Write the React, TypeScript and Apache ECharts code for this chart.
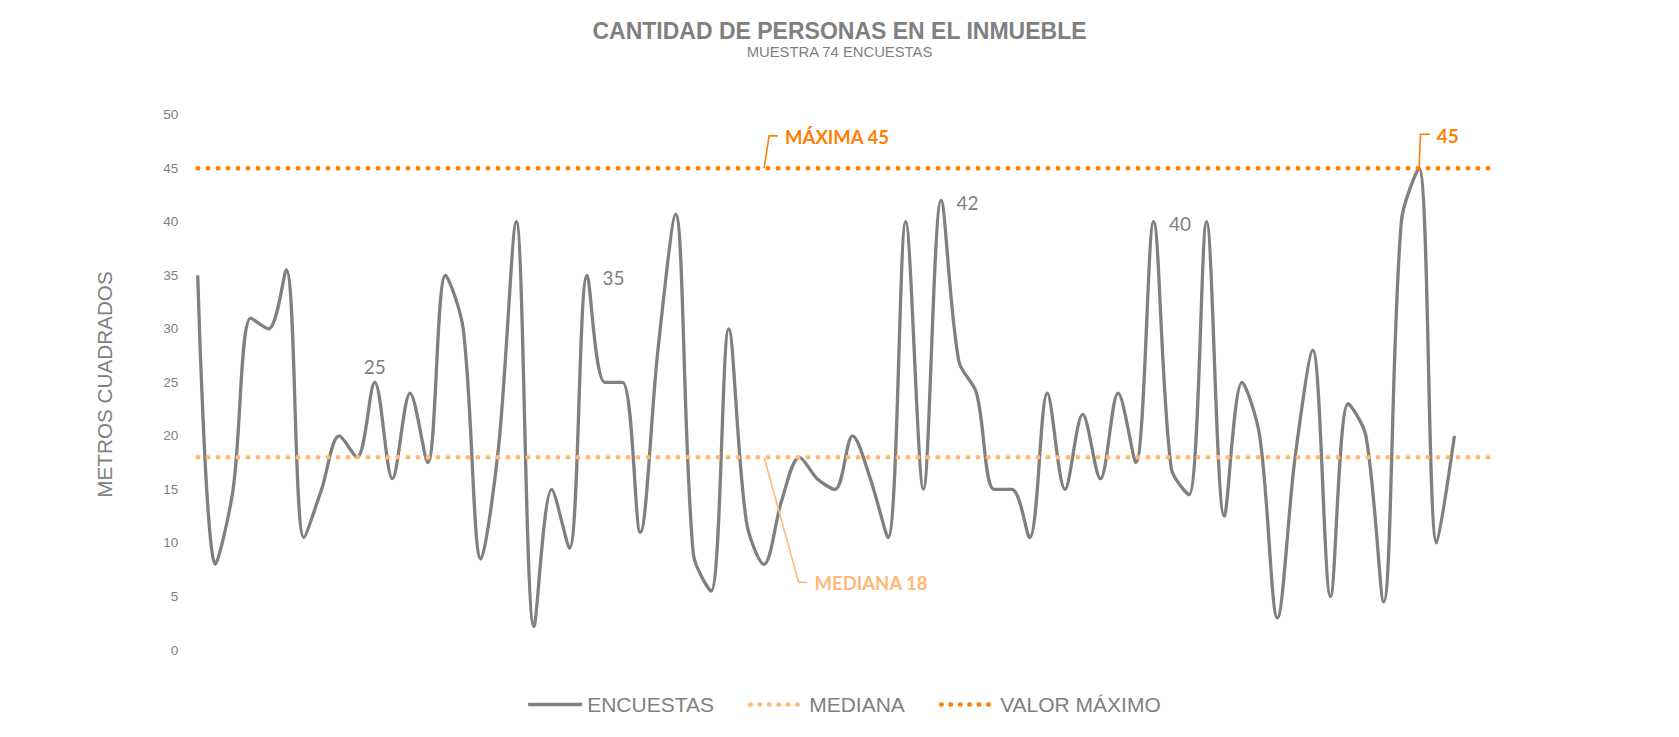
import React, { useEffect, useRef } from "react";
import * as echarts from "echarts";

const categories = [
  "1", "2", "3", "4", "5", "6", "7", "8", "9", "10",
  "11", "12", "13", "14", "15", "16", "17", "18", "19", "20",
  "21", "22", "23", "24", "25", "26", "27", "28", "29", "30",
  "31", "32", "33", "34", "35", "36", "37", "38", "39", "40",
  "41", "42", "43", "44", "45", "46", "47", "48", "49", "50",
  "51", "52", "53", "54", "55", "56", "57", "58", "59", "60",
  "61", "62", "63", "64", "65", "66", "67", "68", "69", "70",
  "71", "72", "73", "74",
];

const encuestas = [
  35, 8, 15, 31, 30, 35.5, 10.5, 15, 20, 18,
  25, 16, 24, 17.5, 35, 30, 8.5, 19, 40, 2.2,
  15, 9.5, 35, 25, 25, 11, 28, 40.7, 9, 5.5,
  30, 12, 8, 14, 18, 16, 15, 20, 16, 10.5,
  40, 15, 42, 27, 24, 15, 15, 10.5, 24, 15,
  22, 16, 24, 17.5, 40, 17, 14.5, 40, 12.5, 25,
  20, 3, 18, 28, 5, 23, 20, 4.5, 40, 45,
  10, 20,
];

const mediana = [
  18, 18, 18, 18, 18, 18, 18, 18, 18, 18,
  18, 18, 18, 18, 18, 18, 18, 18, 18, 18,
  18, 18, 18, 18, 18, 18, 18, 18, 18, 18,
  18, 18, 18, 18, 18, 18, 18, 18, 18, 18,
  18, 18, 18, 18, 18, 18, 18, 18, 18, 18,
  18, 18, 18, 18, 18, 18, 18, 18, 18, 18,
  18, 18, 18, 18, 18, 18, 18, 18, 18, 18,
  18, 18, 18, 18,
];

const valorMaximo = [
  45, 45, 45, 45, 45, 45, 45, 45, 45, 45,
  45, 45, 45, 45, 45, 45, 45, 45, 45, 45,
  45, 45, 45, 45, 45, 45, 45, 45, 45, 45,
  45, 45, 45, 45, 45, 45, 45, 45, 45, 45,
  45, 45, 45, 45, 45, 45, 45, 45, 45, 45,
  45, 45, 45, 45, 45, 45, 45, 45, 45, 45,
  45, 45, 45, 45, 45, 45, 45, 45, 45, 45,
  45, 45, 45, 45,
];

const yTicks = { min: 0, max: 50, interval: 5 };

// indices of labelled survey points and where their label sits
const labelledPoints: { index: number; position: "top" | "right" }[] = [
  { index: 10, position: "top" },
  { index: 22, position: "right" },
  { index: 42, position: "right" },
  { index: 54, position: "right" },
];
const maxLabelIndex = 32;
const medianLabelIndex = 32;
const peakLabelIndex = 69;

const GRAY = "#808080";
const MAX_COLOR = "#FF8000";
const MED_COLOR = "#FFB878";
const ARIAL = "'Liberation Sans', Arial, sans-serif";
const CAL = "Lato, 'Open Sans', sans-serif";

export default function App() {
  const ref = useRef<HTMLDivElement>(null);

  useEffect(() => {
    document.body.style.margin = "0";
    document.body.style.overflow = "hidden";
    if (!ref.current) return;
    const chart = echarts.init(ref.current, null, { renderer: "svg" });

    const surveyData = encuestas.map((v, i) => {
      const lp = labelledPoints.find((p) => p.index === i);
      if (!lp) return v;
      return {
        value: v,
        symbol: "circle",
        symbolSize: 1,
        label: {
          show: true,
          position: lp.position,
          distance: lp.position === "top" ? 6 : 15,
          offset: lp.position === "top" ? [0, 0] : [0, 2],
          color: GRAY,
          fontSize: 19,
          fontFamily: CAL,
          formatter: "{c}",
        },
      };
    });

    const hiddenSymbol = { opacity: 0 };
    const legendDots = { type: [0.5, 8.9], width: 4.5, cap: "round" };

    chart.setOption({
      animation: false,
      backgroundColor: "#ffffff",
      title: [
        {
          text: "CANTIDAD DE PERSONAS EN EL INMUEBLE",
          left: "center",
          top: 19.5,
          padding: 0,
          textStyle: {
            color: GRAY,
            fontSize: 23,
            fontWeight: "bold",
            fontFamily: ARIAL,
            lineHeight: 23,
          },
        },
        {
          text: "MUESTRA 74 ENCUESTAS",
          left: "center",
          top: 44,
          padding: 0,
          textStyle: {
            color: GRAY,
            fontSize: 14.8,
            fontWeight: "normal",
            fontFamily: ARIAL,
            lineHeight: 15,
          },
        },
      ],
      legend: {
        left: 521.5,
        top: 689,
        itemWidth: 54,
        itemHeight: 14,
        itemGap: 34,
        textStyle: { color: GRAY, fontSize: 21, fontFamily: ARIAL },
        data: [
          { name: "ENCUESTAS", itemStyle: hiddenSymbol, lineStyle: { width: 3.3, type: "solid", color: GRAY } },
          { name: "MEDIANA", itemStyle: hiddenSymbol, lineStyle: legendDots },
          { name: "VALOR MÁXIMO", itemStyle: hiddenSymbol, lineStyle: legendDots },
        ],
      },
      grid: { left: 197.7, right: 189.2, top: 114.7, bottom: 87 },
      xAxis: {
        type: "category",
        data: categories,
        boundaryGap: false,
        axisLine: { show: false },
        axisTick: { show: false },
        axisLabel: { show: false },
        splitLine: { show: false },
      },
      yAxis: {
        type: "value",
        min: yTicks.min,
        max: yTicks.max,
        interval: yTicks.interval,
        axisLine: { show: false },
        axisTick: { show: false },
        splitLine: { show: false },
        axisLabel: { color: GRAY, fontSize: 13.5, fontFamily: ARIAL, margin: 19.5 },
      },
      series: [
        {
          name: "ENCUESTAS",
          type: "line",
          data: surveyData,
          smooth: 0.33,
          symbol: "none",
          showSymbol: true,
          showAllSymbol: true,
          lineStyle: { color: GRAY, width: 3.3 },
          itemStyle: { color: GRAY },
          z: 3,
        },
        {
          name: "MEDIANA",
          type: "line",
          data: mediana,
          symbol: "none",
          lineStyle: { color: MED_COLOR, width: 4.5, type: [0.5, 9.5], cap: "round" },
          itemStyle: { color: MED_COLOR },
          z: 4,
        },
        {
          name: "VALOR MÁXIMO",
          type: "line",
          data: valorMaximo,
          symbol: "none",
          lineStyle: { color: MAX_COLOR, width: 4.5, type: [0.5, 9.5], cap: "round" },
          itemStyle: { color: MAX_COLOR },
          z: 4,
        },
      ],
    });

    const finder = { xAxisIndex: 0, yAxisIndex: 0 };
    const pMax = chart.convertToPixel(finder, [maxLabelIndex, valorMaximo[maxLabelIndex]]) as number[];
    const pMed = chart.convertToPixel(finder, [medianLabelIndex, mediana[medianLabelIndex]]) as number[];
    const pPeak = chart.convertToPixel(finder, [peakLabelIndex, valorMaximo[peakLabelIndex]]) as number[];

    const annText = (x: number, y: number, text: string, color: string, size: number) => ({
      type: "text",
      x,
      y,
      silent: true,
      style: {
        text,
        fill: color,
        fontSize: size,
        fontWeight: "bold",
        fontFamily: CAL,
        textAlign: "left",
        textVerticalAlign: "middle",
        align: "left",
        verticalAlign: "middle",
      },
    });

    chart.setOption({
      graphic: [
        {
          type: "text",
          x: 104,
          y: 384.5,
          rotation: Math.PI / 2,
          silent: true,
          style: {
            text: "METROS CUADRADOS",
            fill: GRAY,
            fontSize: 20.7,
            fontFamily: ARIAL,
            textAlign: "center",
            textVerticalAlign: "middle",
            align: "center",
            verticalAlign: "middle",
          },
        },
        {
          type: "polyline",
          silent: true,
          shape: {
            points: [
              [pMax[0], pMax[1]],
              [pMax[0] + 5, pMax[1] - 32.4],
              [pMax[0] + 13.7, pMax[1] - 32.4],
            ],
          },
          style: { stroke: MAX_COLOR, lineWidth: 1.6, fill: "none" },
          z: 10,
        },
        annText(pMax[0] + 21, pMax[1] - 31.5, "MÁXIMA 45", MAX_COLOR, 18.5),
        {
          type: "polyline",
          silent: true,
          shape: {
            points: [
              [pPeak[0], pPeak[1]],
              [pPeak[0] + 1.5, pPeak[1] - 34],
              [pPeak[0] + 11, pPeak[1] - 34],
            ],
          },
          style: { stroke: MAX_COLOR, lineWidth: 1.6, fill: "none" },
          z: 10,
        },
        annText(pPeak[0] + 17.7, pPeak[1] - 32.4, "45", MAX_COLOR, 19),
        {
          type: "polyline",
          silent: true,
          shape: {
            points: [
              [pMed[0], pMed[1]],
              [pMed[0] + 34.5, pMed[1] + 125],
              [pMed[0] + 43, pMed[1] + 125],
            ],
          },
          style: { stroke: MED_COLOR, lineWidth: 1.6, fill: "none" },
          z: 10,
        },
        annText(pMed[0] + 50.5, pMed[1] + 125.3, "MEDIANA 18", MED_COLOR, 18.5),
      ],
    });

    return () => {
      chart.dispose();
    };
  }, []);

  return <div ref={ref} style={{ width: 1679, height: 737 }} />;
}
